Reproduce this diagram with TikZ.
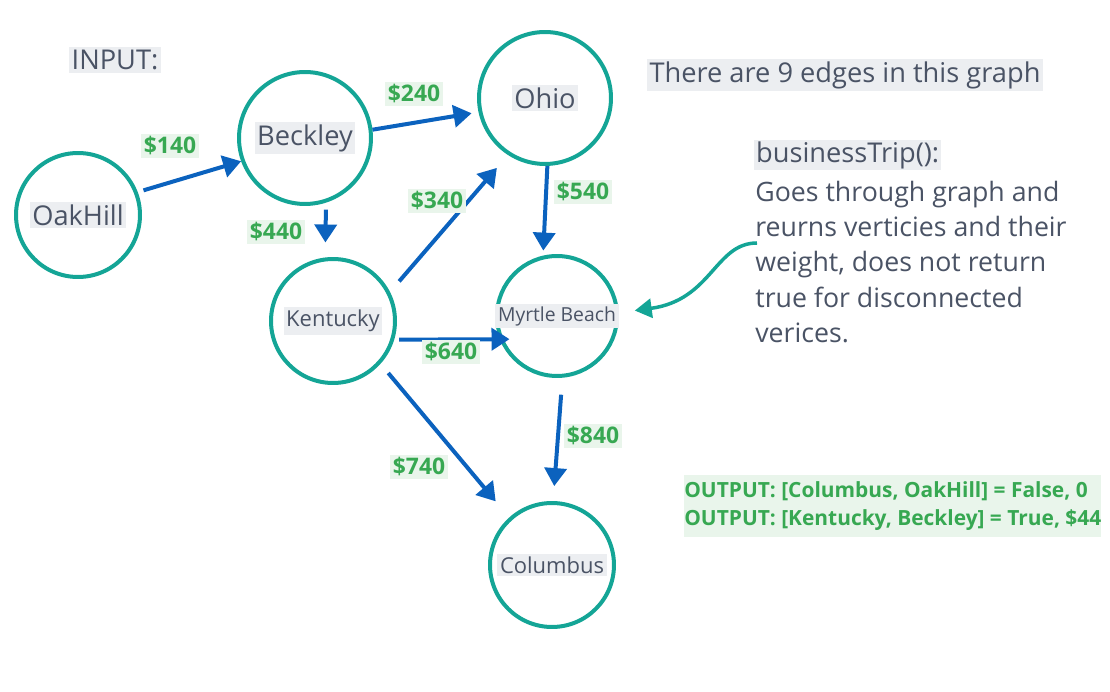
\documentclass[tikz,border=0pt]{standalone}
\usepackage{fontspec}
\setmainfont{Open Sans}
\usetikzlibrary{arrows.meta}
\definecolor{ring}{HTML}{14A596}
\definecolor{wire}{HTML}{0B62BE}
\definecolor{ink}{HTML}{4A5365}
\definecolor{haze}{HTML}{ECEEF1}
\definecolor{money}{HTML}{37A852}
\definecolor{mint}{HTML}{E9F5EB}

\begin{document}
\begin{tikzpicture}[x=0.02cm,y=-0.02cm]
  \tikzset{city/.style = {shape=circle,draw=ring,line width=0.08cm,minimum size=#1,inner sep=0pt}}
  \tikzset{tag/.style = {fill=haze,text=ink,inner sep=1.5pt,font=\fontsize{15.5}{19}\selectfont}}
  \tikzset{small/.style = {tag,font=\fontsize{12.5}{15}\selectfont}}
  \tikzset{cost/.style = {fill=mint,text=money,inner sep=1.5pt,font=\bfseries\fontsize{13}{15}\selectfont}}
  \tikzset{road/.style = {draw=wire,line width=0.08cm,-{Triangle[length=0.36cm,width=0.44cm]}}}
  \useasboundingbox (0,0) rectangle (1110,692);

	\node[tag] (input) at (115,60) {INPUT:};
	\node[tag] (count) at (845,75) {There are 9 edges in this graph};

	\node[city=2.48cm,label={[tag]center:OakHill}] (oak) at (78,215) {};
	\node[city=2.64cm,label={[tag]center:Beckley}] (beck) at (305,138) {};
	\node[city=2.64cm,label={[tag]center:Ohio}] (ohio) at (545,98) {};
	\node[city=2.48cm,label={[small]center:Kentucky}] (kent) at (333,321) {};
	\node[city=2.40cm,label={[small,font=\fontsize{11}{13}\selectfont]center:Myrtle Beach}] (myrtle) at (557,316) {};
	\node[city=2.48cm,label={[small]center:Columbus}] (col) at (552,565) {};

       \foreach \from/\fa/\to/\ta/\sa/\sb in {oak/21/beck/200/0.12/0, beck/7/ohio/192/0/0.14,
         beck/288/kent/97/0.14/0.30, kent/27/ohio/237/0.28/0.34, ohio/272/myrtle/103/0/0.10,
         kent/343/myrtle/202/0.10/-0.20, kent/318/col/132/0.24/0.42, myrtle/275/col/89/0.34/0.30}
    \draw[road,shorten <=\sa cm,shorten >=\sb cm] (\from.\fa) -- (\to.\ta);

       \foreach \name/\x/\y/\val in {c140/170/146/140, c240/414/94/240, c440/276/232/440, c340/437/201/340,
         c540/583/192/540, c640/451/352/640, c740/419/467/740, c840/593/436/840}
    \node[cost] (\name) at (\x,\y) {\$\val};

	\node[tag,anchor=west,inner sep=1pt] (trip) at (754,155) {businessTrip():};
	\node[text=ink,anchor=west,align=left,inner sep=0pt,font=\fontsize{15.2}{20.1}\selectfont] (about) at (755,262)
	  {Goes through graph and\\reurns verticies and their\\weight, does not return\\true for disconnected\\verices.};

	\coordinate (hook) at (757,243);
	\draw[ring,line width=0.07cm,-{Triangle[length=0.34cm,width=0.38cm]},shorten >=0.32cm]
	  (hook) .. controls (715,243) and (712,300) .. (myrtle.3);

	\node[fill=mint,text=money,anchor=west,align=left,inner xsep=0pt,inner ysep=4pt,
	  font=\bfseries\fontsize{11.9}{15.9}\selectfont] (output) at (684,506)
	  {OUTPUT: [Columbus, OakHill] = False, 0\\OUTPUT: [Kentucky, Beckley] = True, \$44};
\end{tikzpicture}
\end{document}
